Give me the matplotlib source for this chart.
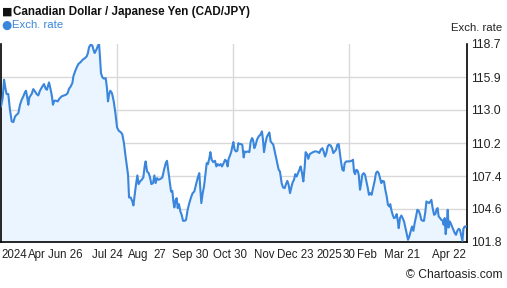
import matplotlib
matplotlib.use("Agg")
import matplotlib.pyplot as plt

plt.rcParams["font.family"] = ["Liberation Sans", "DejaVu Sans"]

# ---------------------------------------------------
# Data: CAD/JPY, 1 year (days since 2024-04-25)
# ---------------------------------------------------
days = [
    0.0, 1.3, 2.4, 3.4, 4.4, 5.7, 7.0, 8.4, 9.7, 11.0, 12.3, 13.6, 14.9, 16.2, 17.5, 18.8,
    19.6, 20.6, 21.4, 22.2, 24.0, 25.3, 26.6, 27.9, 29.2, 30.5, 32.4, 33.7, 35.0, 36.0,
    37.6, 38.9, 39.9, 40.7, 41.8, 43.1, 44.4, 45.7, 47.5, 49.3, 50.9, 52.2, 53.3, 54.6,
    55.9, 56.7, 58.0, 59.3, 60.6, 62.4, 64.0, 65.8, 67.1, 68.1, 68.9, 70.2, 71.5, 72.8,
    73.4, 74.7, 76.0, 76.8, 77.5, 78.3, 79.4, 80.7, 82.0, 83.0, 83.8, 84.6, 85.6, 86.9,
    88.3, 89.6, 90.9, 92.2, 93.7, 95.0, 96.3, 97.4, 98.4, 99.5, 100.3, 101.6, 102.9,
    103.7, 104.7, 105.7, 106.8, 107.8, 108.9, 110.2, 111.5, 112.5, 113.3, 114.4, 115.7,
    116.7, 117.8, 119.1, 120.1, 121.1, 122.2, 123.5, 125.1, 126.4, 127.7, 129.0, 130.0,
    131.1, 132.1, 133.2, 134.2, 135.0, 135.8, 136.8, 137.6, 138.4, 139.4, 140.5, 141.5,
    142.6, 143.9, 144.9, 146.2, 147.5, 148.8, 150.1, 151.4, 152.7, 154.0, 155.3, 156.1,
    156.9, 158.0, 159.0, 160.1, 161.1, 162.1, 163.2, 164.0, 165.0, 166.3, 167.6, 168.7,
    169.7, 171.0, 172.1, 173.1, 174.4, 175.5, 176.5, 177.5, 178.3, 179.4, 180.4, 181.2,
    182.0, 183.0, 184.1, 185.1, 185.9, 186.9, 188.0, 189.0, 190.1, 190.9, 191.9, 193.2,
    194.5, 195.6, 196.6, 197.4, 198.4, 199.5, 200.5, 201.8, 203.1, 204.4, 205.2, 206.0,
    207.0, 208.1, 209.1, 210.2, 211.2, 212.3, 213.3, 214.4, 215.4, 216.4, 217.5, 218.5,
    219.8, 220.9, 222.2, 223.2, 224.3, 225.3, 226.4, 227.4, 228.5, 229.5, 230.5, 231.6,
    232.6, 233.7, 234.7, 235.8, 236.8, 237.9, 238.6, 239.7, 240.7, 241.8, 243.1, 244.4,
    245.7, 247.0, 248.3, 249.3, 250.4, 251.7, 252.7, 253.8, 254.8, 255.9, 256.9, 258.2,
    259.3, 260.3, 261.4, 262.4, 263.4, 264.5, 265.3, 266.3, 267.4, 268.4, 269.2, 270.5,
    271.8, 273.1, 274.7, 275.7, 276.5, 277.3, 278.3, 279.4, 280.2, 281.2, 282.0, 283.0,
    284.1, 285.1, 286.2, 287.2, 288.2, 289.3, 290.3, 291.4, 292.7, 293.7, 294.8, 295.8,
    296.9, 297.9, 298.9, 300.0, 301.0, 302.1, 303.1, 304.2, 304.9, 305.7, 306.8, 307.8,
    308.9, 309.9, 310.7, 311.5, 312.5, 313.6, 314.6, 315.7, 316.7, 317.8, 318.8, 319.8,
    320.9, 321.9, 323.0, 324.0, 325.1, 326.1, 327.2, 328.2, 329.2, 330.3, 331.3, 332.4,
    333.2, 334.2, 335.3, 336.3, 337.1, 338.1, 339.2, 340.2, 341.3, 342.0, 342.8, 343.9,
    344.9, 346.0, 346.7, 347.5, 348.3, 349.1, 349.9, 350.6, 351.4, 352.2, 353.3, 354.3,
    355.4, 356.4, 357.4, 358.5, 359.5, 360.6, 361.4, 362.2, 363.2, 364.0,
]
rate = [
    113.37, 114.09, 115.65, 114.94, 114.43, 114.43, 113.09, 112.09, 112.04, 112.52, 112.66,
    112.80, 113.52, 113.94, 114.23, 114.60, 114.71, 114.09, 113.52, 114.14, 114.43, 114.85,
    114.65, 114.43, 114.31, 114.71, 115.08, 115.28, 114.88, 114.80, 115.42, 114.80, 114.23,
    113.52, 113.86, 113.86, 113.80, 114.03, 114.23, 114.31, 114.37, 114.51, 114.88, 115.08,
    115.37, 115.94, 116.36, 116.70, 116.99, 117.16, 117.36, 117.50, 117.64, 117.93, 118.41,
    118.64, 118.58, 118.07, 117.93, 118.21, 118.58, 118.70, 117.64, 116.22, 115.85, 115.74,
    115.79, 114.94, 113.80, 114.37, 114.71, 114.51, 113.80, 112.80, 111.58, 111.30, 111.18,
    111.01, 110.24, 109.25, 108.45, 107.54, 105.60, 105.60, 105.26, 104.92, 105.83, 106.68,
    107.48, 106.74, 106.97, 107.11, 107.31, 108.25, 108.68, 107.82, 107.68, 107.31, 106.74,
    106.83, 107.48, 106.83, 107.25, 107.11, 107.20, 107.31, 107.96, 108.53, 108.73, 107.82,
    106.97, 106.11, 106.17, 105.26, 104.75, 105.40, 105.54, 104.69, 105.03, 104.41, 104.12,
    103.61, 103.61, 103.69, 104.55, 105.12, 105.60, 105.97, 106.11, 106.68, 107.25, 107.68,
    106.40, 105.12, 105.97, 106.54, 107.54, 108.53, 108.45, 108.96, 109.47, 108.82, 108.62,
    108.73, 108.25, 108.45, 108.33, 108.45, 108.25, 108.53, 108.82, 108.73, 108.25, 108.90,
    109.19, 109.53, 109.96, 110.33, 109.67, 109.53, 109.59, 110.24, 110.16, 110.16, 110.10,
    109.02, 109.53, 109.47, 109.53, 109.47, 110.38, 110.67, 110.53, 109.81, 110.10, 110.53,
    110.81, 110.95, 111.24, 110.53, 109.47, 110.16, 110.73, 110.95, 111.15, 110.38, 110.24,
    110.10, 109.53, 109.02, 108.53, 107.96, 107.82, 106.83, 106.46, 106.40, 106.74, 107.02,
    106.68, 105.97, 106.46, 106.91, 107.11, 107.59, 107.39, 107.68, 107.96, 108.25, 107.68,
    106.97, 108.25, 109.47, 109.30, 108.90, 109.30, 109.39, 109.47, 109.53, 109.53, 109.47,
    109.39, 109.67, 109.81, 109.53, 109.10, 109.39, 109.96, 110.10, 110.04, 109.81, 109.39,
    109.53, 109.67, 110.10, 110.16, 109.53, 108.68, 107.96, 107.88, 108.53, 108.68, 108.68,
    108.68, 108.73, 108.82, 107.82, 107.59, 107.96, 107.88, 107.54, 106.26, 106.74, 107.54,
    107.68, 107.54, 106.97, 106.46, 105.83, 105.97, 105.83, 106.40, 107.02, 107.68, 107.82,
    107.68, 107.25, 106.83, 107.02, 106.97, 106.26, 105.69, 104.97, 104.83, 105.03, 104.55,
    104.12, 103.84, 103.89, 104.18, 103.69, 102.98, 103.84, 104.06, 103.84, 103.55, 103.04,
    102.47, 101.99, 102.27, 102.70, 103.12, 102.75, 103.41, 103.98, 104.55, 104.46, 104.18,
    103.69, 103.61, 103.61, 104.41, 105.26, 105.20, 105.12, 105.26, 105.40, 104.69, 104.12,
    104.18, 104.63, 104.69, 103.98, 103.84, 103.69, 103.61, 103.27, 103.84, 102.47, 103.27,
    104.55, 103.04, 103.55, 103.41, 103.12, 102.84, 102.56, 102.41, 102.75, 102.93, 102.84,
    102.27, 101.90, 102.93, 103.12, 103.12,
]

y_ticks = [101.8, 104.617, 107.433, 110.25, 113.067, 115.883, 118.7]
y_labels = ["101.8", "104.6", "107.4", "110.2", "113.0", "115.9", "118.7"]

x_tick_days = [10.2, 27.8, 50.3, 83.4, 107.3, 124.5, 148.0, 179.0, 206.0, 230.2,
               257.3, 272.4, 286.3, 313.7, 350.9]
x_labels = ["2024", "Apr", "Jun 26", "Jul 24", "Aug", "27", "Sep 30", "Oct 30", "Nov",
            "Dec 23", "2025", "30", "Feb", "Mar 21", "Apr 22"]

grid_days = [90.9, 181.7, 272.6]

LINE_COLOR = "#3a86dc"
FILL_COLOR = "#eaf5ff"
TEXT_COLOR = "#222222"


def main():
    fig = plt.figure(figsize=(5.07, 2.88), dpi=100)
    ax = fig.add_axes([1 / 507, 46 / 288, 466 / 507, 198 / 288])

    ax.set_xlim(0, 365)
    ax.set_ylim(101.8, 118.7)

    # gridlines
    for y in y_ticks[1:-1]:
        ax.axhline(y, color="#d9d9d9", linewidth=1.0, zorder=1)
    for d in grid_days:
        ax.axvline(d, color="#d9d9d9", linewidth=1.0, zorder=1)

    ax.fill_between(days, rate, 101.8, color=FILL_COLOR, linewidth=0, zorder=2)
    ax.plot(days, rate, color=LINE_COLOR, linewidth=1.5, zorder=3,
            solid_joinstyle="round")

    # spines
    ax.spines["top"].set_visible(False)
    for s in ["left", "bottom", "right"]:
        ax.spines[s].set_color("black")
        ax.spines[s].set_linewidth(1.2)

    ax.yaxis.tick_right()
    ax.set_yticks(y_ticks)
    ax.set_yticklabels(y_labels)
    ax.set_xticks(x_tick_days)
    ax.set_xticklabels(x_labels)
    ax.tick_params(axis="y", length=0, labelsize=8.7, colors=TEXT_COLOR, pad=3)
    ax.tick_params(axis="x", length=0, labelsize=8.3, colors=TEXT_COLOR, pad=5)

    # header texts
    fig.text(2 / 507, 1 - 12 / 288, "\u25a0", fontsize=8, color="#111111",
             va="center", ha="left", family=["DejaVu Sans"])
    fig.text(13 / 507, 1 - 12 / 288, "Canadian Dollar / Japanese Yen (CAD/JPY)",
             fontsize=8.4, fontweight="bold", color="#111111", va="center", ha="left")
    fig.text(1 / 507, 1 - 25 / 288, "\u25cf", fontsize=8.5, color=LINE_COLOR,
             va="center", ha="left", family=["DejaVu Sans"])
    fig.text(12 / 507, 1 - 25 / 288, "Exch. rate", fontsize=8.2, color=LINE_COLOR,
             va="center", ha="left")
    fig.text(502 / 507, 1 - 28 / 288, "Exch. rate", fontsize=8.2, color=TEXT_COLOR,
             va="center", ha="right")
    fig.text(502 / 507, 1 - 275 / 288, "\u00a9 Chartoasis.com", fontsize=8.7,
             color=TEXT_COLOR, va="center", ha="right")

    fig.savefig("out.png", dpi=100, facecolor="white")


if __name__ == "__main__":
    main()
